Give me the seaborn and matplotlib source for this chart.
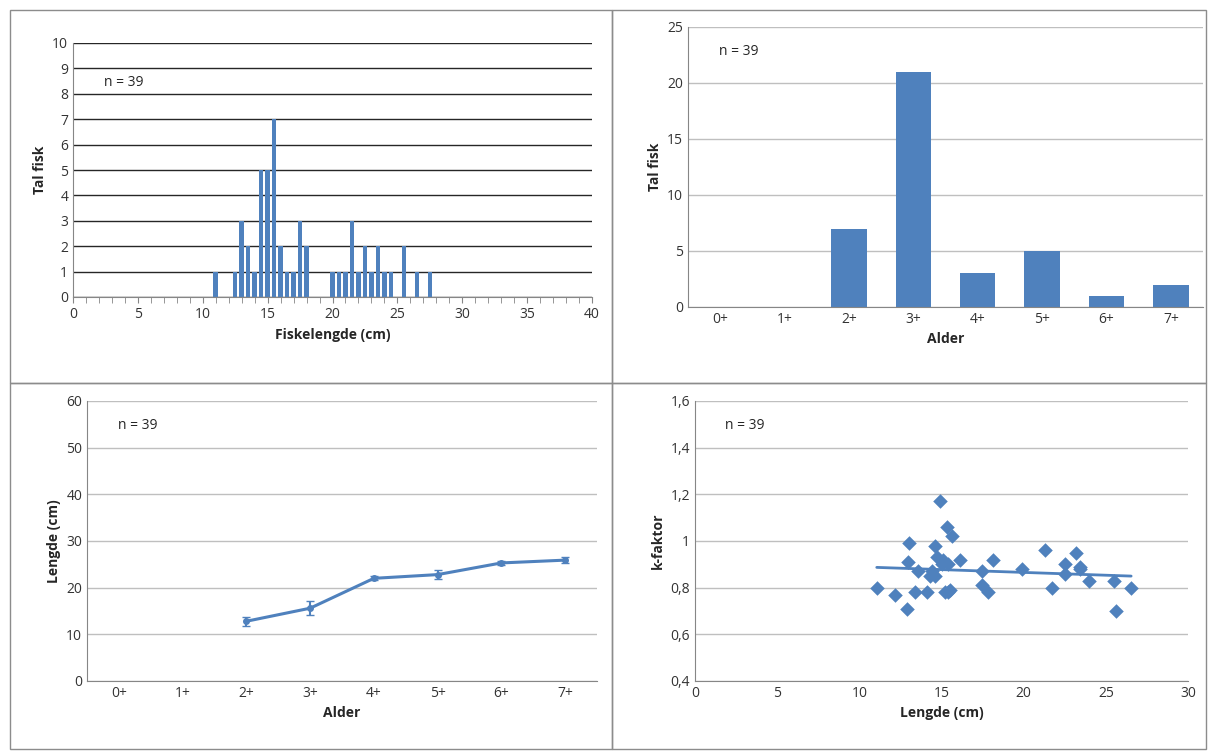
import numpy as np
import pandas as pd
import matplotlib
matplotlib.use("Agg")
import matplotlib.pyplot as plt
import seaborn as sns

sns.set_style("white")
plt.rcParams["font.family"] = ["Open Sans", "DejaVu Sans"]

blue = "#4F81BD"

# lengdefordeling
hist_len = [11, 12.5, 13, 13.5, 14, 14.5, 15, 15.5, 16, 16.5, 17, 17.5, 18,
            20, 20.5, 21, 21.5, 22, 22.5, 23, 23.5, 24, 24.5, 25.5, 26.5, 27.5]
hist_n = [1, 1, 3, 2, 1, 5, 5, 7, 2, 1, 1, 3, 2,
          1, 1, 1, 3, 1, 2, 1, 2, 1, 1, 2, 1, 1]

# aldersfordeling
ages = ["0+", "1+", "2+", "3+", "4+", "5+", "6+", "7+"]
age_n = [0, 0, 7, 21, 3, 5, 1, 2]

# lengde ved alder
len_mean = [np.nan, np.nan, 12.8, 15.6, 22.0, 22.8, 25.3, 25.9]
len_err = [0, 0, 1.0, 1.5, 0.4, 1.0, 0.4, 0.6]

# k-faktor
k_len = [11.06, 12.17, 12.92, 13.04, 12.98, 13.39, 13.59, 14.1, 14.3, 14.6,
         14.6, 14.75, 14.91, 15.32, 15.62, 15.11, 15.42, 15.52, 15.42, 16.13,
         17.45, 17.45, 17.85, 18.16, 19.92, 21.3, 21.71, 22.52, 22.52, 23.17,
         23.43, 23.43, 24.0, 25.52, 25.6, 26.54, 15.0, 14.4, 15.2]
k_fak = [0.80, 0.77, 0.71, 0.99, 0.91, 0.78, 0.87, 0.78, 0.85, 0.85,
         0.98, 0.93, 1.17, 1.06, 1.02, 0.92, 0.90, 0.79, 0.78, 0.92,
         0.87, 0.81, 0.78, 0.92, 0.88, 0.96, 0.80, 0.90, 0.86, 0.95,
         0.89, 0.88, 0.83, 0.83, 0.70, 0.80, 0.90, 0.87, 0.78]

W, H = 1208, 751
fig = plt.figure(figsize=(W / 100, H / 100), dpi=100)


def box(x0, y0, x1, y1):
    return [x0 / W, 1 - y1 / H, (x1 - x0) / W, (y1 - y0) / H]


# panel borders
for (x0, y0, x1, y1) in [(10, 10, 612, 383), (612, 10, 1206, 383),
                         (10, 383, 612, 749), (612, 383, 1206, 749)]:
    fig.add_artist(plt.Rectangle((x0 / W, 1 - y1 / H), (x1 - x0) / W, (y1 - y0) / H,
                                 fill=False, ec="#8c8c8c", lw=1, transform=fig.transFigure))


def style(ax, gridcol="#bfbfbf", ny=0.9):
    for s in ["top", "right"]:
        ax.spines[s].set_visible(False)
    ax.spines["left"].set_color("#868686")
    ax.spines["bottom"].set_color("#868686")
    ax.yaxis.grid(True, color=gridcol, lw=1)
    ax.set_axisbelow(True)
    ax.tick_params(labelsize=10, colors="#333333", length=0)
    ax.text(0.06, ny, "n = 39", transform=ax.transAxes, fontsize=10)


# panel 1
ax1 = fig.add_axes(box(73, 43, 592, 297))
ax1.bar(hist_len, hist_n, width=0.35, color=blue, linewidth=0)
ax1.set_xlim(0, 40)
ax1.set_ylim(0, 10)
ax1.set_yticks(range(0, 11))
ax1.set_xticks(range(0, 41, 5))
ax1.set_xticks(range(0, 41), minor=True)
style(ax1, "#262626", ny=0.83)
ax1.tick_params(axis="x", which="both", direction="out", length=4, color="#868686", bottom=True)
ax1.set_xlabel("Fiskelengde (cm)", fontsize=10, fontweight="bold")
ax1.set_ylabel("Tal fisk", fontsize=10, fontweight="bold")

# panel 2
ax2 = fig.add_axes(box(688, 27, 1203, 307))
df_age = pd.DataFrame({"Alder": ages, "n": age_n})
sns.barplot(data=df_age, x="Alder", y="n", color=blue, saturation=1, width=0.55,
            linewidth=0, ax=ax2)
ax2.set_ylim(0, 25)
ax2.set_yticks(range(0, 26, 5))
style(ax2)
ax2.set_xlabel("Alder", fontsize=10, fontweight="bold")
ax2.set_ylabel("Tal fisk", fontsize=10, fontweight="bold")

# panel 3
ax3 = fig.add_axes(box(87, 401, 597, 681))
xs = np.arange(len(ages))
ax3.errorbar(xs, len_mean, yerr=len_err, color=blue, lw=2.2, marker="o", ms=4,
             capsize=3, elinewidth=1.5)
ax3.set_xlim(-0.5, len(ages) - 0.5)
ax3.set_xticks(xs)
ax3.set_xticklabels(ages)
ax3.set_ylim(0, 60)
ax3.set_yticks(range(0, 61, 10))
style(ax3)
ax3.set_xlabel("Alder", fontsize=10, fontweight="bold")
ax3.set_ylabel("Lengde (cm)", fontsize=10, fontweight="bold")

# panel 4
ax4 = fig.add_axes(box(695, 401, 1188, 681))
df_k = pd.DataFrame({"Lengde": k_len, "k": k_fak})
sns.regplot(data=df_k, x="Lengde", y="k", ci=None, ax=ax4, color=blue,
            marker="D", scatter_kws={"s": 55, "alpha": 1, "linewidths": 0},
            line_kws={"lw": 2})
ax4.set_xlim(0, 30)
ax4.set_ylim(0.4, 1.6)
ax4.set_yticks(np.arange(0.4, 1.61, 0.2))
ax4.set_yticklabels(["0,4", "0,6", "0,8", "1", "1,2", "1,4", "1,6"])
style(ax4)
ax4.set_xlabel("Lengde (cm)", fontsize=10, fontweight="bold")
ax4.set_ylabel("k-faktor", fontsize=10, fontweight="bold")

fig.savefig("out.png", dpi=100)
